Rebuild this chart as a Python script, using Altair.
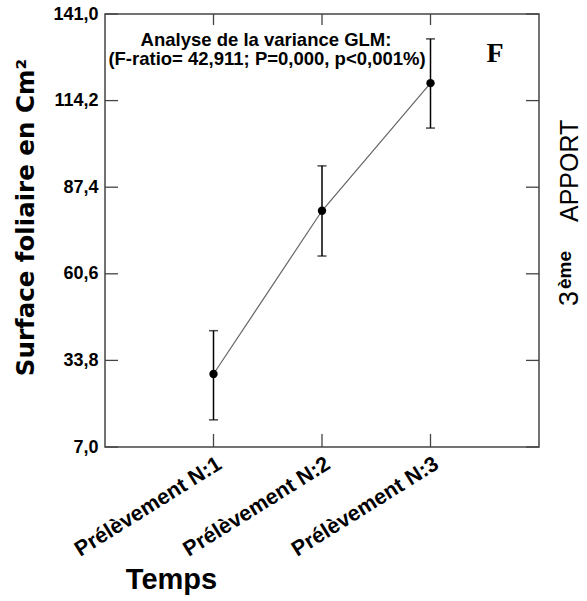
import altair as alt
import pandas as pd

# Sampling times and mean leaf area (cm²) with error-bar bounds
prelevements = ["Prélèvement N:1", "Prélèvement N:2", "Prélèvement N:3"]
moyennes = [29.6, 80.1, 119.6]
bornes_basses = [15.4, 66.1, 105.7]
bornes_hautes = [43.0, 94.0, 133.3]

# Y axis tick values
y_ticks = [7.0, 33.8, 60.6, 87.4, 114.2, 141.0]

annotation_l1 = "Analyse  de la variance  GLM:"
annotation_l2 = "(F-ratio= 42,911; P=0,000, p<0,001%)"
panel_letter = "F"

W, H = 434, 433
FONT = "Liberation Sans"

df = pd.DataFrame({
    "temps": prelevements,
    "surface": moyennes,
    "bas": bornes_basses,
    "haut": bornes_hautes,
})
ticks_df = pd.DataFrame({"surface": y_ticks})
cats_df = pd.DataFrame({"temps": prelevements})

x_scale = alt.Scale(type="point", domain=prelevements, padding=1)
y_scale = alt.Scale(domain=[7, 141], nice=False, zero=False)

x_enc = alt.X(
    "temps:N", scale=x_scale,
    axis=alt.Axis(
        title="Temps", titleFont=FONT, titleFontSize=29, titleFontWeight="bold",
        titleColor="black", titleX=66, titleY=141, titleAlign="center",
        titleBaseline="alphabetic",
        labelFont=FONT, labelFontSize=21.5, labelFontWeight="bold", labelColor="black",
        labelAngle=-32, labelAlign="right", labelBaseline="middle",
        labelPadding=15, labelOffset=6,
        ticks=False, domain=False, grid=False,
    ),
)
y_enc = alt.Y(
    "surface:Q", scale=y_scale,
    axis=alt.Axis(
        values=y_ticks,
        labelExpr="replace(format(datum.value, '.1f'), '.', ',')",
        title="Surface foliaire en Cm²", titleFont="DejaVu Sans", titleFontSize=24.5,
        titleFontWeight="bold", titleColor="black",
        titleAngle=270, titleX=-79, titleY=203, titleAlign="center",
        titleBaseline="middle",
        labelFont=FONT, labelFontSize=18, labelFontWeight="bold", labelColor="black",
        labelPadding=7, ticks=False, domain=False, grid=False,
    ),
)

base = alt.Chart(df)

line = base.mark_line(color="#666666", strokeWidth=1.2).encode(x=x_enc, y=y_enc)

err = base.mark_rule(color="black", strokeWidth=1.5).encode(
    x=alt.X("temps:N", scale=x_scale),
    y=alt.Y("bas:Q", scale=y_scale),
    y2="haut:Q",
)
cap_lo = base.mark_tick(color="black", size=9, thickness=1.5).encode(
    x=alt.X("temps:N", scale=x_scale), y=alt.Y("bas:Q", scale=y_scale)
)
cap_hi = base.mark_tick(color="black", size=9, thickness=1.5).encode(
    x=alt.X("temps:N", scale=x_scale), y=alt.Y("haut:Q", scale=y_scale)
)
points = base.mark_circle(color="black", size=70, opacity=1).encode(
    x=alt.X("temps:N", scale=x_scale), y=alt.Y("surface:Q", scale=y_scale)
)

# Inward-pointing tick marks on all four sides of the frame
TICK = 13
tick_col = "#444444"
left_ticks = alt.Chart(ticks_df).mark_rule(color=tick_col, strokeWidth=1.3).encode(
    y=alt.Y("surface:Q", scale=y_scale), x=alt.value(0), x2=alt.value(TICK)
)
right_ticks = alt.Chart(ticks_df).mark_rule(color=tick_col, strokeWidth=1.3).encode(
    y=alt.Y("surface:Q", scale=y_scale), x=alt.value(W - TICK), x2=alt.value(W)
)
bottom_ticks = alt.Chart(cats_df).mark_rule(color=tick_col, strokeWidth=1.3).encode(
    x=alt.X("temps:N", scale=x_scale), y=alt.value(H - TICK), y2=alt.value(H)
)
top_ticks = alt.Chart(cats_df).mark_rule(color=tick_col, strokeWidth=1.3).encode(
    x=alt.X("temps:N", scale=x_scale), y=alt.value(0), y2=alt.value(TICK - 2)
)

def label(text, x, y, size, weight="bold", font=FONT, align="center", angle=0,
          baseline="alphabetic"):
    return alt.Chart(pd.DataFrame({"t": [text]})).mark_text(
        font=font, fontSize=size, fontWeight=weight, color="black",
        align=align, baseline=baseline, angle=angle,
    ).encode(text="t:N", x=alt.value(x), y=alt.value(y))

ann1 = label(annotation_l1, 161, 32, 18.5)
ann2 = label(annotation_l2, 162, 51, 18.5)
letter = label(panel_letter, 390, 48, 28, font="Liberation Serif")

# Rotated side caption "3ème APPORT" (reads bottom to top)
side_3 = label("3", 473, 292, 27, weight="normal", align="left", angle=270)
side_eme = label("ème", 466, 275, 19, weight="bold", align="left", angle=270)
side_apport = label("APPORT", 473, 208, 25, weight="normal", align="left", angle=270)

chart = alt.layer(
    left_ticks, right_ticks, bottom_ticks, top_ticks,
    line, err, cap_lo, cap_hi, points,
    ann1, ann2, letter, side_3, side_eme, side_apport,
).properties(
    width=W, height=H,
    autosize=alt.AutoSizeParams(type="none"),
    padding={"left": 105, "top": 14, "right": 48, "bottom": 154},
    background="white",
).configure_view(
    stroke="#444444", strokeWidth=1.5
)

chart.save("out.html", embed_options={"renderer": "svg", "actions": False})
